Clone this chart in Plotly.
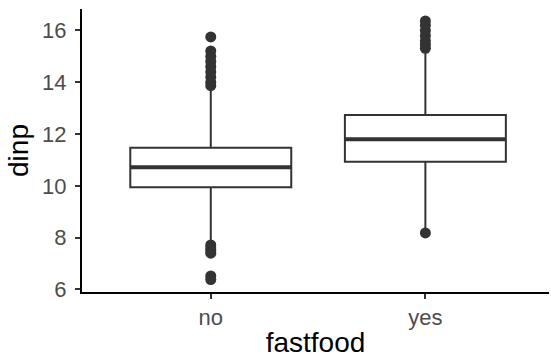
import plotly.graph_objects as go

categories = ["no", "yes"]
cat_pos = [1, 2]
q1 = [9.95, 10.93]
median = [10.72, 11.80]
q3 = [11.47, 12.74]
lower_fence = [7.80, 8.28]
upper_fence = [13.75, 15.25]

outliers_no = [15.75, 15.21, 15.0, 14.8, 14.6, 14.4, 14.2, 14.0, 13.87,
               7.72, 7.6, 7.5, 7.4, 6.52, 6.38]
outliers_yes = [16.37, 16.2, 16.0, 15.8, 15.6, 15.45, 15.31, 8.18]

y_ticks = [6, 8, 10, 12, 14, 16]

dark = "#333333"
fig = go.Figure()

fig.add_trace(go.Box(
    x=cat_pos, q1=q1, median=median, q3=q3,
    lowerfence=lower_fence, upperfence=upper_fence,
    width=0.75, whiskerwidth=0, boxpoints=False,
    fillcolor="white", line=dict(color=dark, width=2),
    showlegend=False, hoverinfo="skip",
))
# thick median bar (degenerate box at the median)
fig.add_trace(go.Box(
    x=cat_pos, q1=median, median=median, q3=median,
    lowerfence=median, upperfence=median,
    width=0.75, whiskerwidth=0, boxpoints=False,
    fillcolor="rgba(0,0,0,0)", line=dict(color=dark, width=4),
    showlegend=False, hoverinfo="skip",
))

ox = [cat_pos[0]] * len(outliers_no) + [cat_pos[1]] * len(outliers_yes)
oy = outliers_no + outliers_yes
fig.add_trace(go.Scatter(
    x=ox, y=oy, mode="markers",
    marker=dict(color=dark, size=11, line=dict(width=0)),
    showlegend=False, hoverinfo="skip",
))

font_family = "Liberation Sans, Arial, sans-serif"
fig.update_layout(
    width=551, height=360,
    margin=dict(l=82, r=2, t=9, b=68),
    paper_bgcolor="white", plot_bgcolor="white",
    boxmode="overlay",
    font=dict(family=font_family),
)
fig.update_xaxes(
    range=[0.4, 2.576],
    tickvals=cat_pos, ticktext=categories,
    showgrid=False, zeroline=False,
    showline=True, linecolor="black", linewidth=2,
    ticks="outside", ticklen=5, tickwidth=2, tickcolor=dark,
    tickfont=dict(size=22, color="#4D4D4D", family=font_family),
    ticklabelstandoff=0,
    title=dict(text="fastfood", font=dict(size=28, color="black", family=font_family), standoff=3),
)
fig.update_yaxes(
    range=[5.9, 16.83],
    tickvals=y_ticks,
    showgrid=False, zeroline=False,
    showline=True, linecolor="black", linewidth=2,
    ticks="outside", ticklen=5, tickwidth=2, tickcolor=dark,
    tickfont=dict(size=22, color="#4D4D4D", family=font_family),
    ticklabelstandoff=4,
    title=dict(text="dinp", font=dict(size=28, color="black", family=font_family), standoff=5),
)

fig.write_html("out.html")
